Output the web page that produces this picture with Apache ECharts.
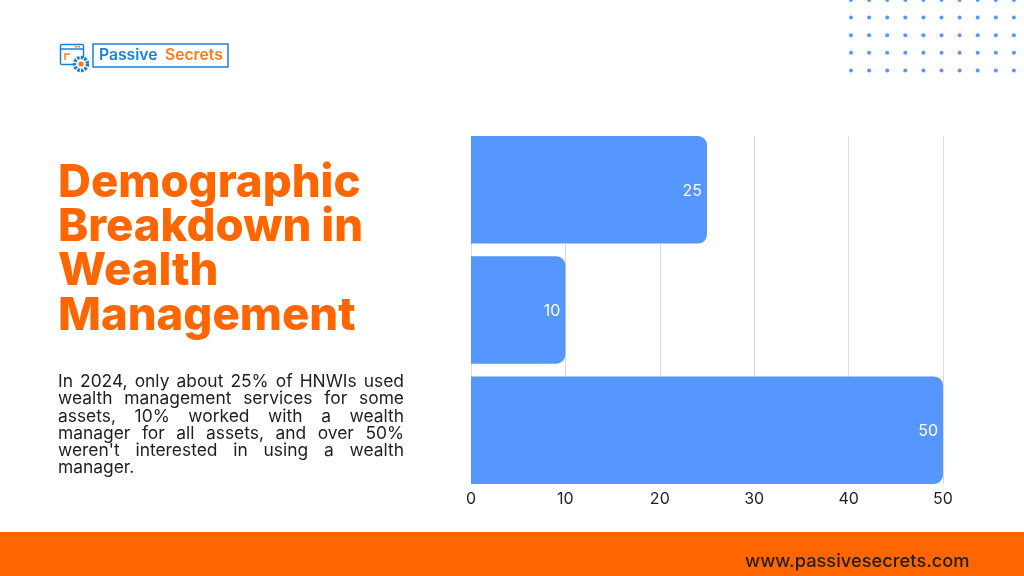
<!DOCTYPE html>
<html><head><meta charset="utf-8">
<style>html,body{margin:0;padding:0;background:#fff}#c{width:1024px;height:576px}</style>
<script src="https://cdn.jsdelivr.net/npm/echarts@6/dist/echarts.min.js"></script>
</head><body><div id="c"></div>
<script>
const categories = ['Some assets', 'All assets', 'Not interested'];
const values = [25, 10, 50];
const xTicks = [0, 10, 20, 30, 40, 50];
const titleLines = ['Demographic', 'Breakdown in', 'Wealth', 'Management'];
const bodyLines = ['In 2024, only about 25% of HNWIs used', 'wealth management services for some', 'assets, 10% worked with a wealth', 'manager for all assets, and over 50%', "weren't interested in using a wealth", 'manager.'];
const site = 'www.passivesecrets.com';
const BLUE = '#5596ff', ORANGE = '#ff6600', INK = '#1f1f1f';
const FF = 'Inter, "Open Sans", sans-serif';

const g = [];
// footer band
g.push({type:'rect', shape:{x:0,y:532,width:1024,height:44}, style:{fill:ORANGE}, z:1});
g.push({type:'text', x:745, y:562, style:{text:site, font:'500 18.3px '+FF, fill:INK, textVerticalAlign:'middle'}, z:2});
// dot pattern
for (let r=0;r<5;r++) for (let c=0;c<10;c++)
  g.push({type:'circle', shape:{cx:851+c*18.1, cy:r*17.6, r:2}, style:{fill:BLUE}, z:1});
// title
titleLines.forEach((t,i)=>g.push({type:'text', x:58, y:183+i*44.4,
  style:{text:t, font:'800 45.5px '+FF, fill:ORANGE, textVerticalAlign:'middle'}, z:2}));
// justified body text
const mctx = document.createElement('canvas').getContext('2d');
const bodyFont = '400 17.4px '+FF;
mctx.font = bodyFont;
const L = 58, R = 404;
bodyLines.forEach((line,i)=>{
  const y = 382+i*17.2, words = line.split(' ');
  const w = words.map(s=>mctx.measureText(s).width);
  const last = i===bodyLines.length-1;
  const gap = last ? mctx.measureText(' ').width : (R-L-w.reduce((a,b)=>a+b,0))/(words.length-1);
  let x = L;
  words.forEach((s,j)=>{
    g.push({type:'text', x:x, y:y, style:{text:s, font:bodyFont, fill:INK, textVerticalAlign:'middle'}, z:2});
    x += w[j]+gap;
  });
});
// logo
const LB = '#1f80d8', LO = '#ff7a1a';
g.push({type:'rect', shape:{x:93,y:44,width:135,height:23}, style:{fill:'#fff',stroke:LB,lineWidth:1.5}, z:2});
g.push({type:'text', x:99, y:55.5, style:{text:'Passive', font:'600 15.7px '+FF, fill:LB, textVerticalAlign:'middle'}, z:3});
g.push({type:'text', x:165, y:55.5, style:{text:'Secrets', font:'600 15.7px '+FF, fill:LO, textVerticalAlign:'middle'}, z:3});
g.push({type:'rect', shape:{x:60.5,y:44.5,width:23,height:20,r:1}, style:{fill:'#fff',stroke:LB,lineWidth:1.5}, z:2});
g.push({type:'line', shape:{x1:60,y1:49,x2:84,y2:49}, style:{stroke:LB,lineWidth:1.5}, z:2});
g.push({type:'line', shape:{x1:75,y1:46.8,x2:81,y2:46.8}, style:{stroke:LO,lineWidth:1.5,lineDash:[2,1]}, z:2});
g.push({type:'polyline', shape:{points:[[65,60],[65,54],[70,54]]}, style:{stroke:LO,lineWidth:1.5,fill:null}, z:2});
g.push({type:'circle', shape:{cx:81,cy:64,r:6.5}, style:{fill:'#fff',stroke:LB,lineWidth:3.5,lineDash:[2.5,1.2]}, z:3});
g.push({type:'circle', shape:{cx:81,cy:64,r:2.6}, style:{fill:LO}, z:4});

const option = {
  animation:false,
  backgroundColor:'#fff',
  graphic:g,
  grid:[
    {left:471, right:81, top:136, bottom:92},
    {left:471, right:81, top:129.75, bottom:85.75}
  ],
  xAxis:[
    {gridIndex:0, type:'value', min:0, max:50, interval:10, position:'bottom',
     axisLine:{show:false}, axisTick:{show:false},
     splitLine:{show:true, lineStyle:{color:'#dcdcdc', width:1}},
     axisLabel:{color:INK, fontFamily:FF, fontSize:16, margin:7,
       formatter:v=>xTicks.includes(v)?String(v):''}},
    {gridIndex:1, type:'value', min:0, max:50, show:false}
  ],
  yAxis:[
    {gridIndex:0, type:'category', data:categories, inverse:true, show:false},
    {gridIndex:1, type:'category', data:categories, inverse:true, show:false}
  ],
  series:[{
    type:'bar', xAxisIndex:1, yAxisIndex:1, data:values, barWidth:107.5,
    itemStyle:{color:BLUE, borderRadius:[0,9,9,0]},
    label:{show:true, position:'insideRight', distance:5, offset:[0,1], color:'#fff', fontFamily:FF, fontSize:16}
  }]
};
echarts.init(document.getElementById('c')).setOption(option);
</script></body></html>
